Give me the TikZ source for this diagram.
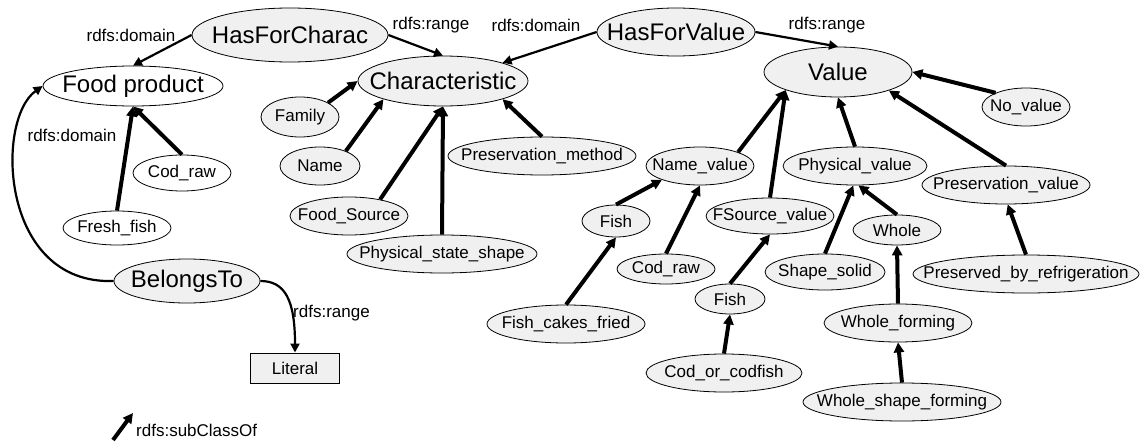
\documentclass[tikz,border=0pt]{standalone}
\usepackage{fontspec}
\setmainfont{Liberation Sans}
\usetikzlibrary{shapes.geometric,arrows.meta}
% keep the text from widening the ellipse
\newcommand{\ctext}[1]{\makebox[0pt]{#1}}

\begin{document}
\begin{tikzpicture}[x=1pt, y=-1pt,
    cls/.style={ellipse, draw, line width=0.8pt, fill=gray!12, inner sep=0pt,
                font=\fontsize{17}{20}\selectfont},
    big/.style={cls, font=\fontsize{24}{28}\selectfont},
    nofill/.style={fill=white},
    sz/.style 2 args={minimum width=#1, minimum height=#2},
    sub/.style={line width=4pt, -{Triangle[length=10pt, width=10pt]}},
    prop/.style={line width=2.2pt, -{Triangle[length=9pt, width=9pt]}},
    lab/.style={font=\fontsize{17}{20}\selectfont, inner sep=0pt}]
    \useasboundingbox (0,0) rectangle (1140,444);

    % Properties
    \node[big, sz={196pt}{54pt}] (hfc) at (290,35) {\ctext{HasForCharac}};
    \node[big, sz={158pt}{48pt}] (hfv) at (676,32) {\ctext{HasForValue}};
    \node[big, sz={146pt}{44pt}] (belongs) at (187,281) {\ctext{BelongsTo}};

    % Food product and its instances
    \node[big, nofill, sz={180pt}{40pt}] (food) at (133,86) {\ctext{Food product}};
    \node[cls, nofill, sz={98pt}{36pt}] (codrawA) at (182,173) {\ctext{Cod\_raw}};
    \node[cls, nofill, sz={108pt}{34pt}] (fresh) at (117,228) {\ctext{Fresh\_fish}};
    \node[draw, line width=1pt, fill=gray!12, lab, sz={89pt}{30pt}] (literal) at (295,368) {Literal};

    % Characteristic tree
    \node[big, sz={170pt}{50pt}] (charac) at (443,81) {\ctext{Characteristic}};
    \node[cls, sz={78pt}{40pt}] (family) at (300,117) {\ctext{Family}};
    \node[cls, sz={80pt}{38pt}] (name) at (320,166) {\ctext{Name}};
    \node[cls, sz={118pt}{38pt}] (foodsrc) at (349,216) {\ctext{Food\_Source}};
    \node[cls, sz={190pt}{38pt}] (pss) at (442,254) {\ctext{Physical\_state\_shape}};
    \node[cls, sz={188pt}{38pt}] (presmeth) at (542,156) {\ctext{Preservation\_method}};

    % Value tree
    \node[big, sz={148pt}{50pt}] (value) at (838,72) {\ctext{Value}};
    \node[cls, sz={88pt}{38pt}] (novalue) at (1026,107) {\ctext{No\_value}};
    \node[cls, sz={108pt}{38pt}] (namev) at (700,166) {\ctext{Name\_value}};
    \node[cls, sz={144pt}{38pt}] (physv) at (855,166) {\ctext{Physical\_value}};
    \node[cls, sz={168pt}{38pt}] (presv) at (1006,185) {\ctext{Preservation\_value}};
    \node[cls, sz={128pt}{36pt}] (fsv) at (770,216) {\ctext{FSource\_value}};
    \node[cls, sz={68pt}{32pt}] (fish1) at (616,221) {\ctext{Fish}};
    \node[cls, sz={98pt}{30pt}] (codrawB) at (666,269) {\ctext{Cod\_raw}};
    \node[cls, sz={158pt}{38pt}] (fishcakes) at (566,324) {\ctext{Fish\_cakes\_fried}};
    \node[cls, sz={70pt}{30pt}] (fish2) at (730,299) {\ctext{Fish}};
    \node[cls, sz={156pt}{38pt}] (codfish) at (724,373) {\ctext{Cod\_or\_codfish}};
    \node[cls, sz={120pt}{36pt}] (shapesolid) at (825,272) {\ctext{Shape\_solid}};
    \node[cls, sz={88pt}{30pt}] (whole) at (897,230) {\ctext{Whole}};
    \node[cls, sz={148pt}{38pt}] (wholef) at (898,323) {\ctext{Whole\_forming}};
    \node[cls, sz={198pt}{38pt}] (wsf) at (902,402) {\ctext{Whole\_shape\_forming}};
    \node[cls, sz={226pt}{38pt}] (pbr) at (1026,274) {\ctext{Preserved\_by\_refrigeration}};

    % Domain and range arrows
    \draw[prop] (hfc.west) -- (food.north);
    \draw[prop] (hfc.east) -- (charac.north);
    \draw[prop] (hfv.west) -- (charac.17);
    \draw[prop] (hfv.east) -- (value.north);
    \draw[prop] (belongs.west) .. controls (0,285) and (-5,120) .. (food.west);
    \draw[prop] (belongs.east) .. controls (285,281) and (295,300) .. (literal.north);
    \node[lab] (domA) at (131,35) {rdfs:domain};
    \node[lab] (rangeA) at (431,25) {rdfs:range};
    \node[lab] (domB) at (536,25) {rdfs:domain};
    \node[lab] (rangeB) at (827,25) {rdfs:range};
    \node[lab] (domC) at (72,135) {rdfs:domain};
    \node[lab, anchor=west] (rangeC) at (293,313) {rdfs:range};

    % Subclass arrows
    \draw[sub] (fresh.north) -- (food.south);
    \draw[sub] (codrawA.north) -- (food.south);
    \draw[sub] (family.27) -- (charac.west);
    \draw[sub] (name.30) -- (charac.197);
    \draw[sub] (foodsrc.28) -- (charac.south);
    \draw[sub] (pss.north) -- (charac.south);
    \draw[sub] (presmeth.north) -- (charac.-17);
    \draw[sub] (namev.20) -- (value.199);
    \draw[sub] (fsv.north) -- (value.199);
    \draw[sub] (physv.north) -- (value.south);
    \draw[sub] (presv.north) -- (value.-20);
    \draw[sub] (novalue.155) -- (value.east);
    \draw[sub] (fish1.north) -- (namev.200);
    \draw[sub] (codrawB.north) -- (namev.south);
    \draw[sub] (fishcakes.north) -- (fish1.south);
    \draw[sub] (fish2.north) -- (fsv.south);
    \draw[sub] (codfish.north) -- (fish2.south);
    \draw[sub] (shapesolid.north) -- (physv.-95);
    \draw[sub] (whole.north) -- (physv.-80);
    \draw[sub] (wholef.north) -- (whole.south);
    \draw[sub] (wsf.north) -- (wholef.south);
    \draw[sub] (pbr.north) -- (presv.-85);

    % Legend
    \coordinate (legA) at (113,440);
    \coordinate (legB) at (133,413);
    \draw[sub] (legA) -- (legB);
    \node[lab, anchor=west] (legtext) at (136,430) {rdfs:subClassOf};
\end{tikzpicture}
\end{document}
